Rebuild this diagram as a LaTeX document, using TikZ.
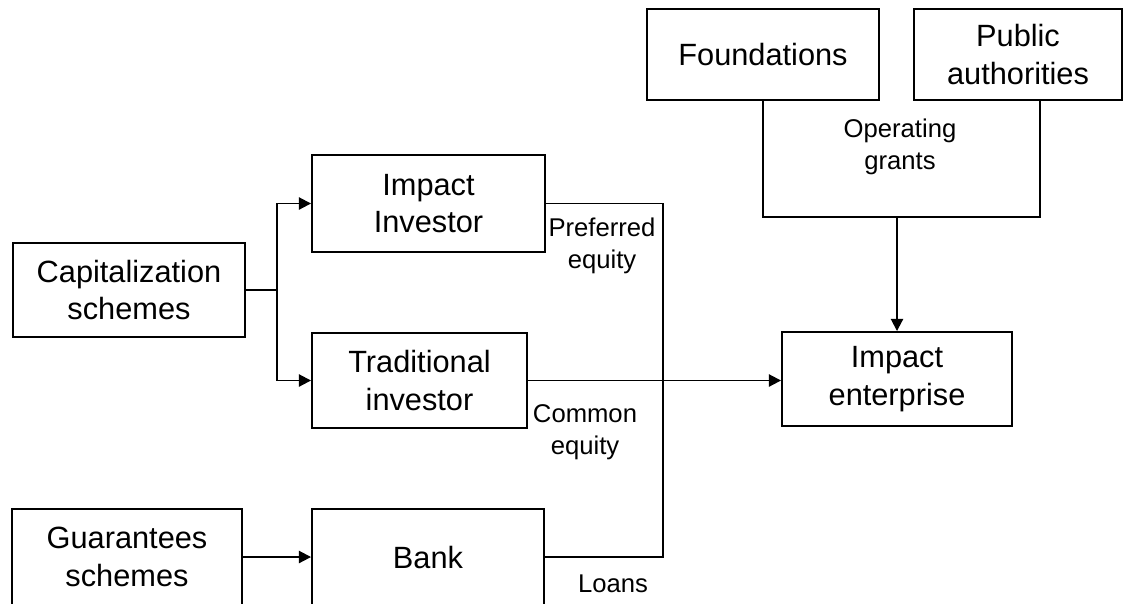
\documentclass[tikz,border=0pt]{standalone}
\usepackage{fontspec}
\setmainfont{Liberation Sans}
\usetikzlibrary{arrows.meta, calc}

\begin{document}
\begin{tikzpicture}[x=0.02cm, y=-0.02cm, line width=1.1pt,
        box/.style={draw, align=center, inner sep=0pt, font=\fontsize{17.5}{21.5}\selectfont},
        flow/.style={align=center, inner sep=0pt, font=\fontsize{14.6}{18}\selectfont},
        >={Triangle[length=7pt,width=7pt]}]
    \clip (0,0) rectangle (1131,603);

    % sources of money
    \node[box, minimum width=4.64cm, minimum height=1.88cm] (cap) at (129,290) {Capitalization\\schemes};
    \node[box, minimum width=4.60cm, minimum height=1.92cm] (guar) at (127,557) {Guarantees\\schemes};
    \node[box, minimum width=4.66cm, minimum height=1.94cm] (imp) at (428.5,203.5) {Impact\\Investor};
    \node[box, minimum width=4.30cm, minimum height=1.90cm] (trad) at (419.5,380.5) {Traditional\\investor};
    \node[box, minimum width=4.64cm, minimum height=1.92cm] (bank) at (428,557) {Bank};
    \node[box, minimum width=4.64cm, minimum height=1.82cm] (found) at (763,54.5) {Foundations};
    \node[box, minimum width=4.16cm, minimum height=1.82cm] (pub) at (1018,54.5) {Public\\authorities};
    \node[box, minimum width=4.60cm, minimum height=1.88cm] (ent) at (897,379) {Impact\\enterprise};

    % kinds of funding
    \node[flow] (pref) at (602,246) {Preferred\\equity};
    \node[flow] (comm) at (585,432) {Common\\equity};
    \node[flow] (loan) at (613,584) {Loans};
    \node[flow] (grant) at (900,147) {Operating\\grants};

    \coordinate (split) at (277,290);
    \coordinate (drop) at (663,380);
    \coordinate (pubfoot) at (1040,100);
    \coordinate (grantbar) at (897,217);

    \draw (cap.east) -- (split);
    \draw[->] (split) |- (imp.west);
    \draw[->] (split) |- (trad.west);
    \draw[->] (guar.east) -- (bank.west);
    \draw[->] (trad.east) -- (trad.east -| ent.west);
    \draw (imp.east) -| (drop) |- (bank.east);
    \draw (found.south) |- (grantbar) -| (pubfoot);
    \draw[->] (grantbar) -- (ent.north);
\end{tikzpicture}
\end{document}
